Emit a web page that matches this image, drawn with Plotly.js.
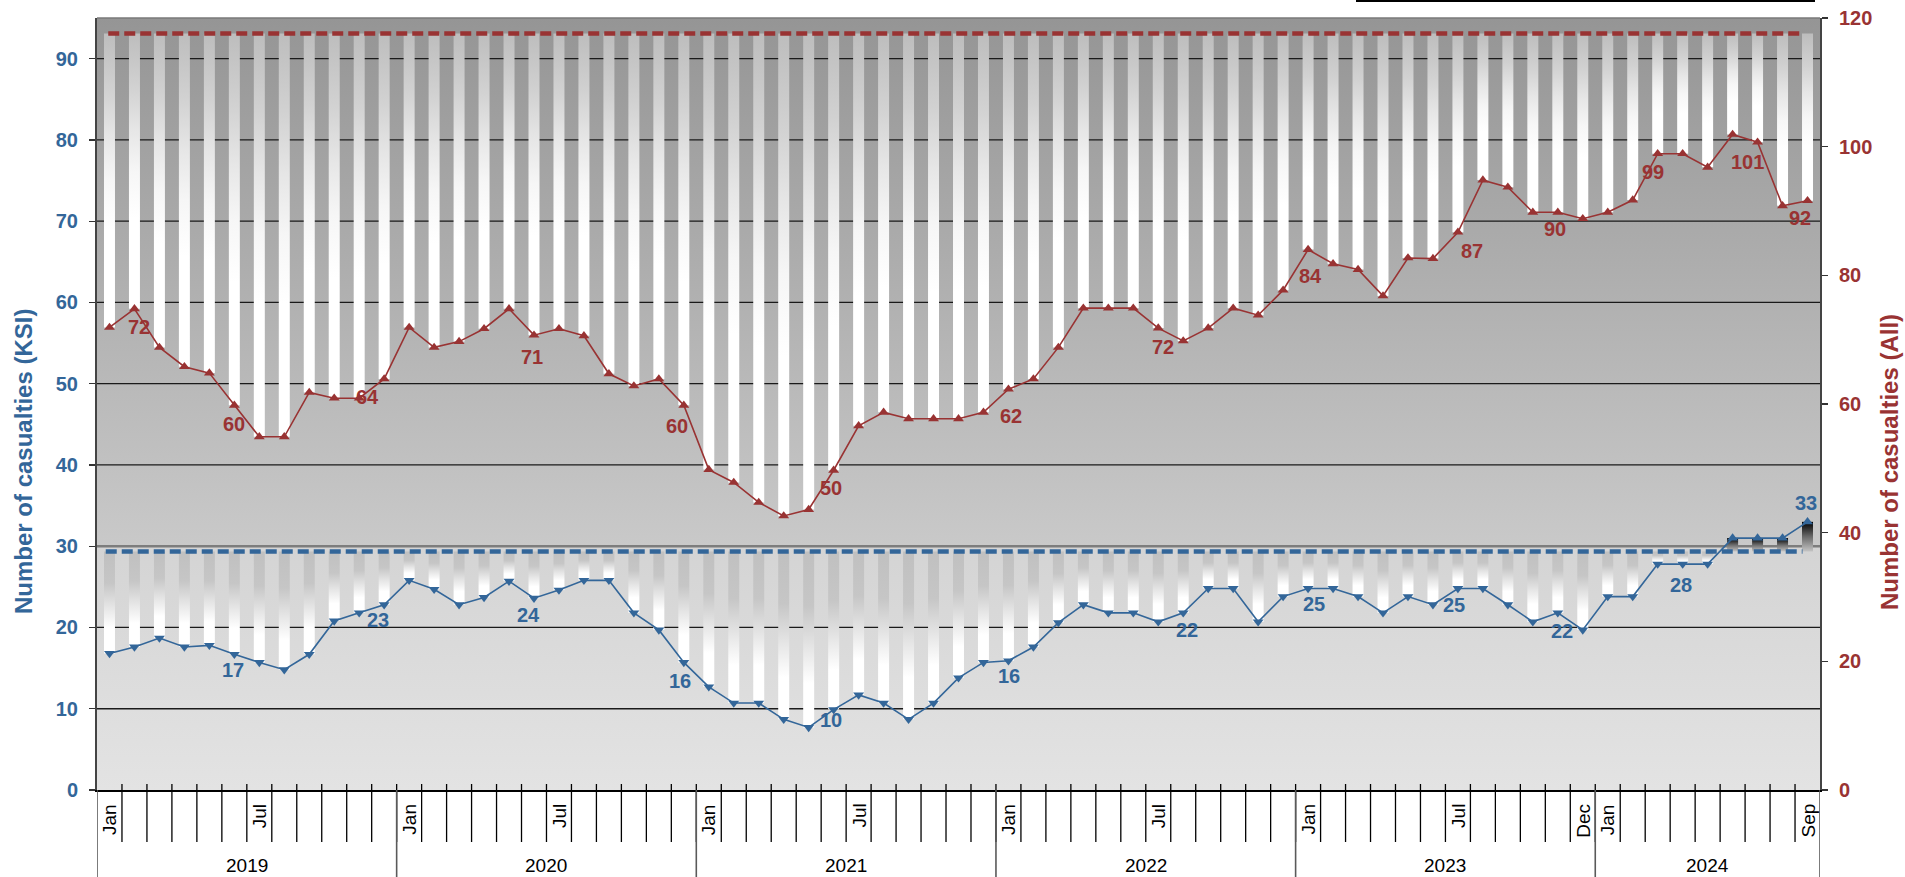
<!DOCTYPE html>
<html>
<head>
<meta charset="utf-8">
<script src="https://cdn.plot.ly/plotly-3.0.1.min.js"></script>
<style>
html,body{margin:0;padding:0;background:#ffffff;}
#chart{width:1905px;height:877px;}
</style>
</head>
<body>
<div id="chart"></div>
<script>
// ---------------- DATA ----------------
const years = ['2019','2020','2021','2022','2023','2024'];
const monthsPerYear = [12,12,12,12,12,9];
const monthLabelIdx  = [0,6,12,18,24,30,36,42,48,54,59,60,68];
const monthLabelText = ['Jan','Jul','Jan','Jul','Jan','Jul','Jan','Jul','Jan','Jul','Dec','Jan','Sep'];

// Killed or seriously injured (left axis)
const ksi = [16.8,17.6,18.7,17.6,17.8,16.7,15.7,14.8,16.7,20.8,21.8,22.8,
             25.8,24.7,22.8,23.7,25.7,23.6,24.6,25.8,25.8,21.8,19.7,15.7,
             12.7,10.7,10.7,8.7,7.7,9.9,11.7,10.7,8.7,10.7,13.8,15.7,
             15.9,17.6,20.6,22.8,21.8,21.8,20.7,21.8,24.8,24.8,20.7,23.8,
             24.8,24.8,23.8,21.8,23.8,22.8,24.8,24.8,22.8,20.7,21.8,19.7,
             23.8,23.8,27.8,27.8,27.8,31.0,31.0,31.0,33.0];
// All casualties (right axis)
const allCas = [71.9,74.8,68.8,65.8,64.8,59.8,54.9,54.9,61.8,60.9,60.9,63.9,
                71.9,68.8,69.7,71.7,74.8,70.7,71.7,70.6,64.7,62.8,63.9,59.8,
                49.8,47.8,44.7,42.6,43.6,49.7,56.6,58.7,57.7,57.7,57.7,58.7,
                62.3,63.9,68.8,74.9,74.9,74.9,71.8,69.8,71.8,74.9,73.8,77.7,
                84.0,81.8,80.9,76.8,82.7,82.6,86.7,94.8,93.7,89.8,89.8,88.8,
                89.8,91.7,98.9,98.9,96.8,101.9,100.7,90.8,91.6];
const ksiRef = 29.35;   // KSI reference level (dashed)
const allRef = 117.6;   // All casualties reference level (dashed)

const ksiLabelIdx  = [5,11,17,23,29,36,43,48,54,58,63,68];
const ksiLabelText = ['17','23','24','16','10','16','22','25','25','22','28','33'];
const allLabelIdx  = [0,5,11,17,23,29,36,42,48,54,58,62,66,68];
const allLabelText = ['72','60','64','71','60','50','62','72','84','87','90','99','101','92'];

const leftTicks = [0,10,20,30,40,50,60,70,80,90];
const rightTicks = [0,20,40,60,80,100,120];

// ---------------- STYLE / LAYOUT HELPERS ----------------
const ksiLabelOff = [[-1,16],[-6,15],[-5,17],[-4,19],[-3,10],[1,15],[4,17],[6,16],[-4,17],[4,18],[-2,21],[-2,-19]];
const allLabelOff = [[30,0],[0,19],[-17,18],[-2,22],[-7,21],[-3,18],[3,27],[5,19],[2,26],[14,19],[-3,17],[-5,18],[-10,20],[-8,17]];

const FW = 1905, FH = 877, ML = 97, MR = 85, MT = 18, MB = 87;
const plotH = FH - MT - MB, plotW = FW - ML - MR;
const py = px => (FH - MB - px) / plotH;
const pxX = px => (px - ML) / plotW;
const N = ksi.length;
const half = 0.22;
const RED = '#993333', BLUE = '#336699';
const FONT = 'Arial, "Liberation Sans", sans-serif';

const upperBarScale = [[0,'#ffffff'],[0.33,'#ffffff'],[0.5,'#f6f6f6'],[0.65,'#e6e6e6'],[0.8,'#d2d2d2'],[1,'#bdbdbd']];
const lowerBarScale = [[0,'#ffffff'],[0.25,'#ffffff'],[0.45,'#e6e6e6'],[0.69,'#c6c6c6'],[1,'#c0c0c0']];
const overBarScale  = [[0,'#c4c4c4'],[0.5,'#6a6a6a'],[1,'#000000']];

function rect(x0, x1, y0, y1) { return {x:[x0,x1,x1,x0,x0], y:[y0,y0,y1,y1,y0]}; }

const traces = [];
// background areas
traces.push(Object.assign({type:'scatter', mode:'none', fill:'toself', fillcolor:'#b5b5b5',
  fillgradient:{type:'vertical', colorscale:[[0,'#c9c9c9'],[1,'#959595']]},
  hoverinfo:'skip', showlegend:false, yaxis:'y'}, rect(-0.5, N-0.5, 30, 95)));
traces.push(Object.assign({type:'scatter', mode:'none', fill:'toself', fillcolor:'#dcdcdc',
  fillgradient:{type:'vertical', colorscale:[[0,'#e3e3e3'],[1,'#d4d4d4']]},
  hoverinfo:'skip', showlegend:false, yaxis:'y'}, rect(-0.5, N-0.5, 0, 30)));

// gridlines
const gx = [], gy = [];
leftTicks.filter(v => v !== 0 && v !== 30).forEach(v => { gx.push(-0.5, N-0.5, null); gy.push(v, v, null); });
traces.push({type:'scatter', mode:'lines', x:gx, y:gy, line:{color:'#1a1a1a', width:1.3}, hoverinfo:'skip', showlegend:false, yaxis:'y'});
traces.push({type:'scatter', mode:'lines', x:[-0.5, N-0.5], y:[30,30], line:{color:'#7d7d7d', width:2.6}, hoverinfo:'skip', showlegend:false, yaxis:'y'});

// upper gradient bars (All)
allCas.forEach((v, i) => {
  traces.push(Object.assign({type:'scatter', mode:'none', fill:'toself', fillcolor:'#eeeeee',
    fillgradient:{type:'vertical', colorscale:upperBarScale},
    hoverinfo:'skip', showlegend:false, yaxis:'y2'}, rect(i-half, i+half, v, allRef)));
});
// lower gradient bars (KSI)
ksi.forEach((v, i) => {
  const below = v < ksiRef;
  traces.push(Object.assign({type:'scatter', mode:'none', fill:'toself', fillcolor:'#eeeeee',
    fillgradient:{type:'vertical', colorscale: below ? lowerBarScale : overBarScale},
    hoverinfo:'skip', showlegend:false, yaxis:'y'}, rect(i-half, i+half, Math.min(v, ksiRef), Math.max(v, ksiRef))));
});

// dashed reference lines
traces.push({type:'scatter', mode:'lines', x:[-0.05, N-1.2], y:[allRef, allRef], yaxis:'y2',
  line:{color:RED, width:4.5, dash:'11px,5px'}, hoverinfo:'skip', showlegend:false});
traces.push({type:'scatter', mode:'lines', x:[-0.15, N-1.2], y:[ksiRef, ksiRef], yaxis:'y',
  line:{color:BLUE, width:4.5, dash:'11px,5px'}, hoverinfo:'skip', showlegend:false});

const xs = ksi.map((_, i) => i);
traces.push({type:'scatter', mode:'lines+markers', x:xs, y:allCas, yaxis:'y2',
  line:{color:RED, width:1.6}, marker:{symbol:'triangle-up', size:9.5, color:RED},
  hoverinfo:'skip', showlegend:false, cliponaxis:false});
traces.push({type:'scatter', mode:'lines+markers', x:xs, y:ksi, yaxis:'y',
  line:{color:BLUE, width:1.6},
  marker:{symbol: ksi.map(v => v < ksiRef ? 'triangle-down' : 'triangle-up'), size:9.5, color:BLUE},
  hoverinfo:'skip', showlegend:false, cliponaxis:false});

// ---------------- ANNOTATIONS ----------------
const annotations = [];
allLabelIdx.forEach((idx, k) => {
  annotations.push({x:idx, y:allCas[idx], xref:'x', yref:'y2', text:allLabelText[k], showarrow:false,
    xshift:allLabelOff[k][0], yshift:-allLabelOff[k][1],
    font:{family:FONT, size:20, color:RED, weight:'bold'}});
});
ksiLabelIdx.forEach((idx, k) => {
  annotations.push({x:idx, y:ksi[idx], xref:'x', yref:'y', text:ksiLabelText[k], showarrow:false,
    xshift:ksiLabelOff[k][0], yshift:-ksiLabelOff[k][1],
    font:{family:FONT, size:20, color:BLUE, weight:'bold'}});
});
monthLabelIdx.forEach((idx, k) => {
  annotations.push({x:idx, y:py(802), xref:'x', yref:'paper', text:monthLabelText[k], showarrow:false,
    textangle:-90, xanchor:'center', yanchor:'top', font:{family:FONT, size:19, color:'#000'}});
});
let start = 0;
const yearBounds = [0];
years.forEach((yr, k) => {
  const end = start + monthsPerYear[k];
  annotations.push({x:(start + end - 1)/2, y:py(866), xref:'x', yref:'paper', text:yr, showarrow:false,
    xanchor:'center', yanchor:'middle', font:{family:FONT, size:19, color:'#000'}});
  start = end; yearBounds.push(end);
});
annotations.push({x:pxX(23), y:py(462), xref:'paper', yref:'paper', text:'Number of casualties (KSI)',
  textangle:-90, showarrow:false, xanchor:'center', yanchor:'middle',
  font:{family:FONT, size:24, color:BLUE, weight:'bold'}});
annotations.push({x:pxX(1889), y:py(462), xref:'paper', yref:'paper', text:'Number of casualties (All)',
  textangle:-90, showarrow:false, xanchor:'center', yanchor:'middle',
  font:{family:FONT, size:24, color:RED, weight:'bold'}});

// ---------------- SHAPES (axis furniture) ----------------
const shapes = [];
for (let k = 1; k < N; k++) {
  shapes.push({type:'line', xref:'x', yref:'paper', x0:k-0.5, x1:k-0.5, y0:py(784), y1:py(842),
    line:{color:'#000', width:1.3}});
}
yearBounds.forEach(b => {
  shapes.push({type:'line', xref:'x', yref:'paper', x0:b-0.5, x1:b-0.5, y0:py(790), y1:py(877),
    line:{color:'#5a5a5a', width:1.6}});
});
shapes.push({type:'line', xref:'paper', yref:'paper', x0:0, x1:1, y0:1, y1:1, line:{color:'#7a7a7a', width:1.5}});
shapes.push({type:'line', xref:'paper', yref:'paper', x0:pxX(1356), x1:pxX(1815), y0:py(1), y1:py(1), line:{color:'#000', width:2}});

const layout = {
  width:FW, height:FH,
  margin:{l:ML, r:MR, t:MT, b:MB, pad:0},
  paper_bgcolor:'#ffffff', plot_bgcolor:'#d0d0d0',
  showlegend:false, hovermode:false,
  font:{family:FONT},
  xaxis:{range:[-0.5, N-0.5], showgrid:false, zeroline:false, showticklabels:false, ticks:'',
    showline:true, linecolor:'#000', linewidth:2, fixedrange:true},
  yaxis:{range:[0,95], tickvals:leftTicks, ticks:'outside', ticklen:6, tickwidth:1.3, tickcolor:'#333',
    showgrid:false, zeroline:false, showline:true, linecolor:'#444', linewidth:2, ticklabelstandoff:7,
    tickfont:{family:FONT, size:20, color:BLUE, weight:'bold'}, fixedrange:true},
  yaxis2:{range:[0,120], tickvals:rightTicks, overlaying:'y', side:'right', ticks:'outside', ticklen:6,
    tickwidth:1.3, tickcolor:'#333', showgrid:false, zeroline:false, showline:true, linecolor:'#444', linewidth:2,
    ticklabelstandoff:7, tickfont:{family:FONT, size:20, color:RED, weight:'bold'}, fixedrange:true},
  annotations:annotations,
  shapes:shapes
};

Plotly.newPlot('chart', traces, layout, {displayModeBar:false, staticPlot:true});
</script>
</body>
</html>
